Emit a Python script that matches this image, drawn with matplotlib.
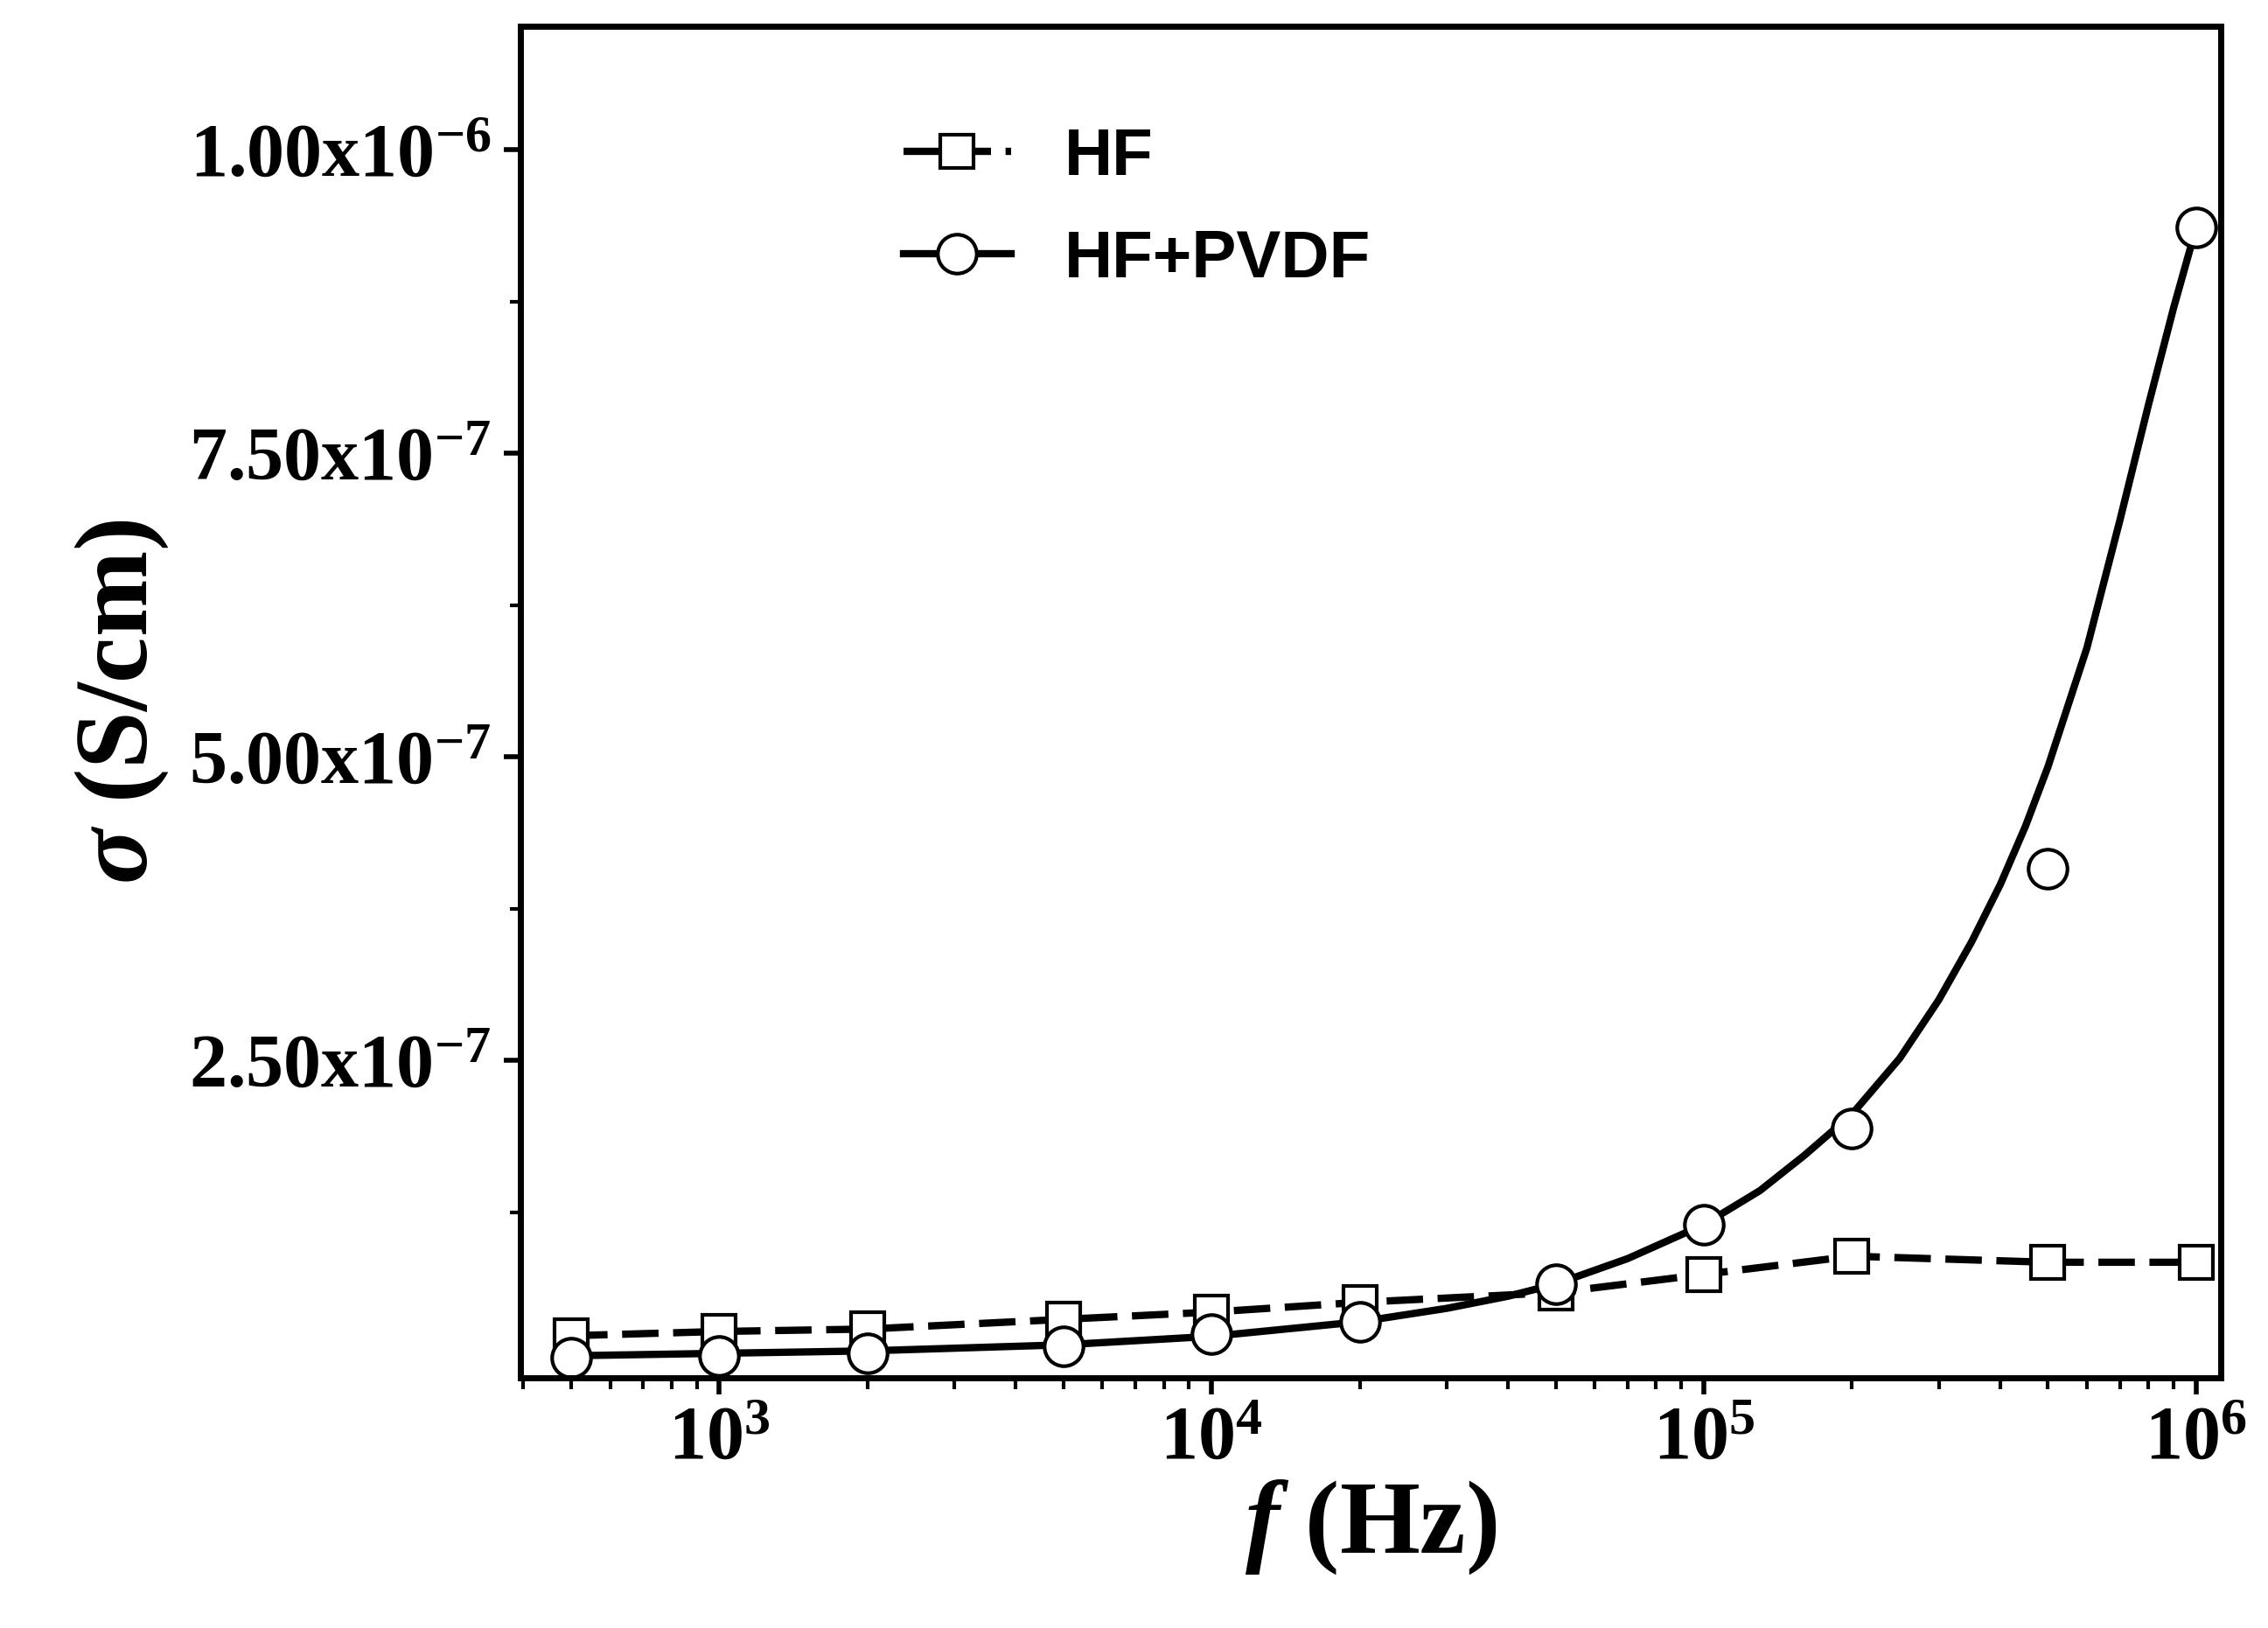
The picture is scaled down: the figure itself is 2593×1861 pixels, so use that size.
import matplotlib
matplotlib.use("Agg")
import matplotlib.pyplot as plt
from matplotlib.ticker import FixedLocator, LogLocator, NullFormatter

freq = [500, 1e3, 2e3, 5e3, 1e4, 2e4, 5e4, 1e5, 2e5, 5e5, 1e6]
hf = [2.35e-8, 2.7e-8, 2.9e-8, 3.7e-8, 4.3e-8, 5.1e-8, 5.9e-8, 7.4e-8, 8.9e-8, 8.4e-8, 8.4e-8]
hf_pvdf = [5.6e-9, 6.8e-9, 9e-9, 1.5e-8, 2.5e-8, 3.5e-8, 6.6e-8, 1.15e-7, 1.94e-7, 4.08e-7, 9.36e-7]
# fitted curve
fit_f = [500, 1e3, 2e3, 5e3, 1e4, 2e4, 3e4, 4e4, 5e4, 7e4, 1e5, 1.3e5, 1.6e5, 2e5, 2.5e5, 3e5, 3.5e5, 4e5, 4.5e5, 5e5, 6e5, 7e5, 8e5, 9e5, 1e6]
fit_s = [7e-9, 9e-9, 1.1e-8, 1.6e-8, 2.3e-8, 3.5e-8, 4.6e-8, 5.6e-8, 6.6e-8, 8.7e-8, 1.15e-7, 1.43e-7, 1.72e-7, 2.06e-7, 2.52e-7, 3.0e-7, 3.48e-7, 3.95e-7, 4.43e-7, 4.92e-7, 5.9e-7, 6.95e-7, 7.9e-7, 8.7e-7, 9.36e-7]
yticks = [2.5e-7, 5e-7, 7.5e-7, 1e-6]
ylabels = [r"2.50x10$^{\mathbf{-7}}$", r"5.00x10$^{\mathbf{-7}}$", r"7.50x10$^{\mathbf{-7}}$", r"1.00x10$^{\mathbf{-6}}$"]

plt.rcParams['mathtext.fontset'] = 'custom'
plt.rcParams['mathtext.rm'] = 'Liberation Serif:bold'
plt.rcParams['mathtext.it'] = 'Liberation Serif:bold:italic'
plt.rcParams['mathtext.bf'] = 'Liberation Serif:bold'

fig = plt.figure(figsize=(25.93, 18.61), dpi=100)
ax = fig.add_axes([0.2296, 0.1538, 0.7494, 0.8302])
ax.set_xscale('log')
ax.plot(freq, hf, ls=(0, (5, 2)), color='black', lw=6, marker='s', ms=27, mfc='white', mec='black', mew=3, label='HF')
ax.plot(fit_f, fit_s, '-', color='black', lw=6)
ax.plot(freq, hf_pvdf, ls='none', marker='o', ms=32, mfc='white', mec='black', mew=3)
ax.plot([], [], '-', color='black', lw=6, marker='o', ms=32, mfc='white', mec='black', mew=3, label='HF+PVDF')

ax.set_xlim(395, 1.12e6)
ax.set_ylim(-1.1e-8, 1.102e-6)
ax.yaxis.set_major_locator(FixedLocator(yticks))
ax.set_yticklabels(ylabels)
ax.yaxis.set_minor_locator(FixedLocator([1.25e-7, 3.75e-7, 6.25e-7, 8.75e-7]))
ax.xaxis.set_major_locator(LogLocator(base=10, numticks=10))
ax.xaxis.set_minor_locator(LogLocator(base=10, subs=range(2, 10), numticks=20))
ax.xaxis.set_minor_formatter(NullFormatter())
for s in ax.spines.values():
    s.set_linewidth(5)
ax.tick_params(which='major', direction='out', length=14, width=4, labelsize=62, pad=10)
ax.tick_params(which='minor', direction='out', length=9, width=3)
for lab in ax.get_xticklabels() + ax.get_yticklabels():
    lab.set_fontfamily('Liberation Serif'); lab.set_fontweight('bold')
ax.set_xlabel(r"$\mathit{f}$ (Hz)", fontsize=85, fontfamily='Liberation Serif', fontweight='bold', labelpad=2)
ax.set_ylabel(r"$\mathit{\sigma}$ (S/cm)", fontsize=85, fontfamily='Liberation Serif', fontweight='bold', labelpad=15)
ax.legend(loc='upper left', bbox_to_anchor=(0.19, 0.97), frameon=False, handlelength=1.6, handletextpad=0.8,
          prop={'family': 'Liberation Sans', 'weight': 'bold', 'size': 55}, labelspacing=0.6)
fig.savefig('out.png', dpi=100)
